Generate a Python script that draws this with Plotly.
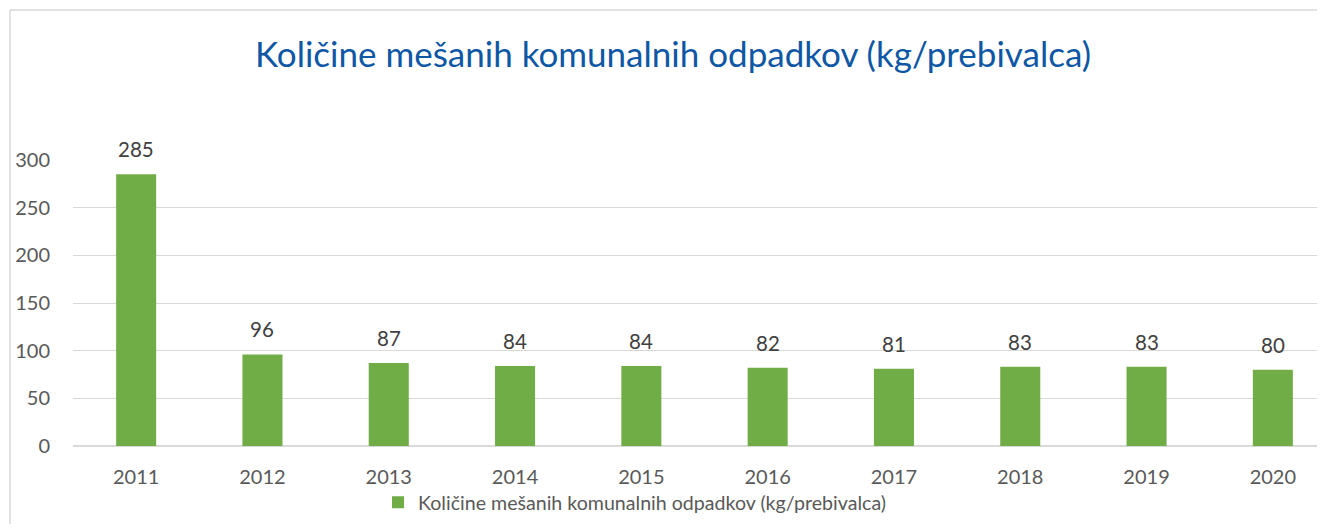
import plotly.graph_objects as go

years = ["2011", "2012", "2013", "2014", "2015", "2016", "2017", "2018", "2019", "2020"]
values = [285, 96, 87, 84, 84, 82, 81, 83, 83, 80]
y_ticks = [0, 50, 100, 150, 200, 250, 300]
series_name = "Količine mešanih komunalnih odpadkov (kg/prebivalca)"
title_text = "Količine mešanih komunalnih odpadkov (kg/prebivalca)"

# page body has an 8px margin; figure coords = screen coords - 8
W, H = 1309, 516
L, R, T, B = 65, 0, 152, 78
pw, ph = W - L - R, H - T - B
cat_px = 126.3  # pixel spacing between categories in the reference

def px_to_paper_x(px):
    return (px - L) / pw

def px_to_paper_y(py):
    return (H - B - py) / ph

fig = go.Figure()
fig.add_trace(go.Bar(
    x=years, y=values, name=series_name,
    marker=dict(color="#70AD47", line=dict(width=0)),
    showlegend=True,
))

for i, v in enumerate(values):
    fig.add_annotation(
        x=i, y=v, xref="x", yref="y", text=str(v), showarrow=False,
        yanchor="bottom", yshift=11,
        font=dict(family="Lato", size=20.5, color="#404040"),
    )

# chart frame: only left and top edges are visible in the reference
frame_style = dict(color="#D9D9D9", width=1.5)
fig.add_shape(type="line", xref="paper", yref="paper",
              x0=px_to_paper_x(2), x1=px_to_paper_x(2),
              y0=px_to_paper_y(H), y1=px_to_paper_y(2),
              line=frame_style, layer="below")
fig.add_shape(type="line", xref="paper", yref="paper",
              x0=px_to_paper_x(2), x1=px_to_paper_x(W),
              y0=px_to_paper_y(2), y1=px_to_paper_y(2),
              line=frame_style, layer="below")

fig.update_layout(
    width=W, height=H,
    margin=dict(l=L, r=R, t=T, b=B, pad=0),
    paper_bgcolor="white", plot_bgcolor="white",
    title=dict(
        text=title_text, x=665 / W, xanchor="center",
        y=1 - 47 / H, yanchor="middle",
        font=dict(family="Lato", size=35, color="#0E57A5"),
    ),
    bargap=0.683,
    xaxis=dict(
        type="category", range=[-0.5, -0.5 + pw / cat_px],
        showgrid=False, showline=False, ticks="",
        tickfont=dict(family="Lato", size=20, color="#595959"),
        ticklabelstandoff=17,
    ),
    yaxis=dict(
        range=[0, 300], tickvals=y_ticks,
        showgrid=True, gridcolor="#D9D9D9", gridwidth=1.2,
        zeroline=True, zerolinecolor="#D9D9D9", zerolinewidth=1.5,
        showline=False, ticks="",
        tickfont=dict(family="Lato", size=20, color="#595959"),
        ticklabelstandoff=22,
    ),
    legend=dict(
        orientation="h", x=px_to_paper_x(370), xanchor="left",
        y=px_to_paper_y(475), yanchor="top",
        font=dict(family="Lato", size=19.6, color="#595959"),
        itemwidth=30, bgcolor="rgba(0,0,0,0)",
    ),
)

fig.write_html("out.html", config={"displayModeBar": False})
